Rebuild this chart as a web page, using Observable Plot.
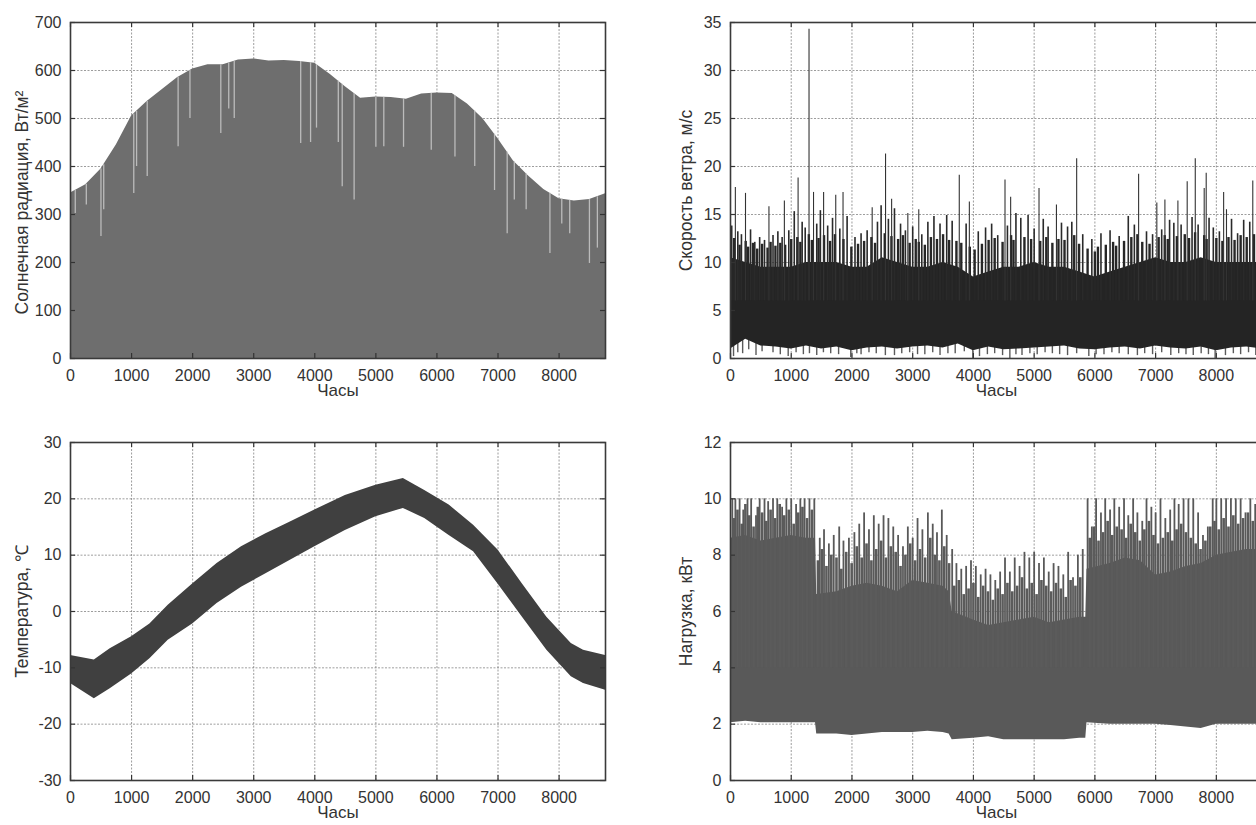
<!DOCTYPE html>
<html><head><meta charset="utf-8">
<script src="https://cdn.jsdelivr.net/npm/d3@7"></script>
<script src="https://cdn.jsdelivr.net/npm/@observablehq/plot@0.6"></script>
<style>
html,body{margin:0;padding:0;background:#fff;overflow:hidden;width:1256px;height:825px;}
#wrap{position:relative;width:1256px;height:825px;overflow:hidden;}
#wrap svg{position:absolute;}
</style></head><body><div id="wrap"></div>
<script>
// ---------- shared axis values ----------
const xLabel = "Часы";
const xTicks = [0,1000,2000,3000,4000,5000,6000,7000,8000];

// ---------- Panel 1: solar radiation (daily peak envelope + cloudy-day dips) ----------
const solarHours = [0,250,500,750,1000,1250,1500,1750,2000,2250,2500,2750,3000,3250,3500,3750,4000,4250,4500,4750,5000,5250,5500,5750,6000,6250,6500,6750,7000,7250,7500,7750,8000,8250,8500,8760];
const solarPeak  = [345,362,395,445,505,535,560,585,603,612,612,622,624,620,621,619,615,592,566,542,545,544,540,551,553,552,530,500,458,412,380,352,333,328,331,343];
const solarDipHours = [78,259,499,544,1036,1082,1256,1762,1956,2461,2591,2681,3769,3931,4028,4385,4449,4644,5000,5130,5453,5907,6295,6619,6943,7150,7267,7461,7850,8044,8174,8497,8627];
const solarDipValue = [302,320,254,310,344,400,379,441,500,469,520,500,448,450,480,450,358,330,440,441,440,434,420,400,350,260,330,310,219,280,260,198,230];
const solarLabel = "Солнечная радиация, Вт/м²";
const solarTicks = [0,100,200,300,400,500,600,700];

// ---------- Panel 2: wind speed ----------
const windHours = [0,250,500,750,1000,1250,1500,1750,2000,2250,2500,2750,3000,3250,3500,3750,4000,4250,4500,4750,5000,5250,5500,5750,6000,6250,6500,6750,7000,7250,7500,7750,8000,8250,8500,8760];
const windLow   = [1.0,2.0,1.3,1.2,1.0,1.3,1.0,1.2,0.8,1.1,1.2,1.0,1.2,1.3,1.1,1.5,0.8,1.2,0.9,1.0,1.1,1.2,1.3,1.0,0.9,1.1,1.2,1.0,1.3,1.1,1.0,1.2,0.8,1.1,1.2,1.0];
const windDense = [10.5,10,9.5,9.5,9.5,10,10,10,9.5,9.5,10.5,10,9.5,9.5,10,9.5,8.5,9,9.5,9.5,10,9.5,9.5,9,8.5,9,9.5,10,10.5,10,10,10.5,10,10,10,10];
const windGustHours = [20,120,180,330,400,480,560,700,780,850,960,1050,1180,1230,1420,1480,1600,1680,1800,1920,2050,2150,2250,2420,2480,2600,2700,2800,2880,3000,3150,3250,3350,3450,3560,3650,3880,4080,4200,4300,4400,4560,4700,4780,4900,5000,5150,5230,5450,5550,5620,5800,5950,6100,6250,6400,6550,6650,6850,6950,7100,7230,7300,7420,7600,7700,7880,7950,8050,8250,8350,8450,8550,8700];
const windGustValue = [13.8,13.2,12.9,13.4,12.1,12.6,12.3,12.8,13.2,12.6,13.3,15.3,14.2,13.6,14.0,15.4,13.8,14.6,13.5,14.8,12.6,13.0,13.3,14.2,15.9,14.5,15.6,14.0,13.3,13.7,12.9,14.2,14.8,14.0,14.9,14.3,14.0,13.2,13.6,14.0,12.8,13.8,15.1,14.6,14.9,13.5,14.5,13.7,14.1,13.7,14.2,12.9,12.4,13.0,13.3,12.7,14.8,13.9,13.2,12.9,13.4,14.4,14.1,13.9,14.7,13.9,14.6,13.6,13.2,14.5,13.0,14.4,14.2,13.7];
const windGust2Hours = [60,150,250,290,370,440,520,610,660,740,820,900,1000,1100,1150,1290,1340,1450,1540,1640,1720,1860,1990,2100,2200,2320,2380,2540,2650,2760,2840,2950,3050,3100,3200,3300,3400,3500,3600,3720,3800,3940,4020,4140,4250,4350,4480,4620,4660,4840,4950,5100,5200,5300,5400,5500,5660,5740,5880,6000,6050,6180,6300,6350,6480,6600,6700,6780,6900,7050,7150,7200,7350,7480,7550,7650,7800,7840,8000,8100,8200,8300,8400,8500,8620,8740];
const windGust2Value = [12.5,11.8,12.2,11.6,12.0,11.4,11.9,11.5,12.1,11.7,12.0,11.8,12.4,12.6,12.1,12.9,12.3,12.5,12.8,12.2,12.9,12.4,11.6,11.9,12.2,12.6,12.0,13.0,12.7,12.4,12.8,12.0,12.4,12.1,11.8,12.6,12.4,12.9,12.3,12.2,12.0,11.6,11.3,11.9,12.3,12.5,12.1,12.8,12.3,12.6,12.4,12.2,12.6,12.0,12.4,12.3,12.8,11.9,11.4,11.1,11.6,11.8,12.1,11.7,12.2,12.6,12.9,12.1,11.9,12.6,12.8,12.4,12.7,12.9,12.5,13.1,12.8,12.4,12.5,12.2,12.6,12.3,12.8,12.6,12.9,12.4];
const windPeakHours = [80,247,633,887,1113,1293,1367,1533,1733,1853,2333,2553,2653,2920,3100,3767,3933,4520,4613,5080,5367,5700,6720,7020,7153,7367,7520,7653,7800,7833,8120,8167,8600];
const windPeakValue = [17.8,17.2,15.8,16.4,18.8,34.3,17.3,17.3,17.0,17.3,15.7,21.3,16.6,15.1,15.5,19.1,16.3,18.6,16.8,17.7,16.0,20.8,19.2,16.2,16.5,16.4,18.4,20.8,17.7,19.3,17.3,15.5,18.5];
const windCalmHours = [50,120,200,300,420,520,700,820,950,1080,1200,1300,1420,1530,1650,1780,1980,2080,2150,2280,2400,2550,2700,2820,2950,3080,3200,3330,3450,3580,3700,3850,3990,4100,4230,4350,4480,4600,4700,4800,4930,5050,5180,5300,5420,5550,5700,5900,6020,6150,6280,6400,6550,6700,6820,6950,7100,7250,7380,7500,7620,7750,7870,7980,8150,8280,8400,8530,8650];
const windCalmValue = [0.2,0.6,0.5,0.9,0.3,0.7,0.6,0.4,0.2,0.6,0.4,0.5,0.3,0.6,0.5,0.4,0.1,0.5,0.4,0.6,0.5,0.3,0.3,0.5,0.6,0.4,0.4,0.6,0.3,0.5,0.5,0.7,0.0,0.2,0.4,0.5,0.3,0.0,0.4,0.3,0.5,0.4,0.6,0.5,0.4,0.3,0.5,0.2,0.4,0.4,0.6,0.5,0.4,0.3,0.5,0.4,0.6,0.3,0.5,0.4,0.3,0.5,0.4,0.0,0.3,0.5,0.4,0.6,0.3];
const windLabel = "Скорость ветра, м/с";
const windTicks = [0,5,10,15,20,25,30,35];

// ---------- Panel 3: temperature band ----------
const tempHours = [0,390,650,1000,1300,1600,2000,2400,2800,3200,3600,4000,4500,5000,5450,5800,6200,6600,7000,7400,7800,8200,8400,8760];
const tempHigh  = [-7.8,-8.6,-6.6,-4.5,-2.2,1.1,4.9,8.5,11.5,13.8,15.9,18.0,20.6,22.4,23.6,21.5,18.9,15.3,10.9,4.9,-1.0,-5.7,-6.9,-7.8];
const tempLow   = [-12.8,-15.5,-13.7,-11.1,-8.4,-5.1,-2.2,1.4,4.3,6.7,9.1,11.5,14.4,16.8,18.3,16.5,13.5,10.6,4.9,-1.0,-6.9,-11.6,-12.8,-14.0];
const tempLabel = "Температура, ℃";
const tempTicks = [-30,-20,-10,0,10,20,30];

// ---------- Panel 4: load ----------
const loadHours = [0,250,500,750,1000,1250,1400,1420,1750,2000,2250,2500,2750,3000,3250,3500,3600,3650,4000,4250,4500,4750,5000,5250,5500,5750,5850,5870,6250,6500,6750,7000,7250,7500,7750,8000,8250,8500,8760];
const loadLow   = [2.05,2.1,2.05,2.05,2.05,2.05,2.05,1.65,1.65,1.6,1.65,1.7,1.7,1.7,1.75,1.7,1.65,1.45,1.5,1.55,1.45,1.45,1.45,1.45,1.45,1.5,1.5,2.05,2.0,2.0,2.0,2.0,1.95,1.9,1.85,2.0,2.0,2.0,2.0];
const loadDense = [8.6,8.7,8.5,8.6,8.7,8.6,8.6,6.6,6.7,6.9,7.0,6.9,6.7,7.1,7.0,6.9,6.7,6.0,5.7,5.5,5.6,5.7,5.8,5.6,5.7,5.8,5.8,7.5,7.7,7.9,7.8,7.3,7.4,7.6,7.7,8.0,8.1,8.2,8.2];
const loadPeakHours = [30,80,150,210,280,340,420,480,560,620,700,770,850,920,1000,1080,1150,1220,1300,1380,
  1470,1540,1620,1700,1790,1860,1950,2040,2120,2200,2280,2360,2440,2520,2600,2680,2760,2840,2920,3000,3080,3160,3250,3330,3400,3480,3560,
  3650,3720,3800,3880,3960,4040,4120,4200,4280,4360,4440,4520,4600,4680,4760,4840,4920,5000,5080,5160,5240,5320,5400,5480,5560,5640,5720,5800,
  5880,5950,6020,6100,6170,6250,6320,6400,6480,6550,6630,6700,6780,6850,6930,7000,7080,7160,7240,7310,7380,7460,7540,7620,7700,7780,7860,7940,8000,8080,8160,8240,8320,8400,8480,8560,8640,8720];
const loadPeakValue = [10,10,10,9.6,10,10,9.4,10,10,9.9,10,10,9.7,10,10,9.8,10,10,10,10,
  8.6,8.9,8.4,8.7,9.0,8.5,8.6,8.8,9.1,9.5,8.9,9.4,9.1,9.4,9.3,9.0,8.7,8.3,9.0,8.6,9.3,8.9,9.5,9.1,8.8,9.6,8.7,
  8.2,7.7,7.5,7.6,7.8,7.6,7.3,7.5,7.3,7.1,7.4,7.9,7.4,7.9,7.6,8.1,7.9,8.1,7.7,7.9,7.4,7.7,7.6,7.3,8.1,7.2,8.0,8.2,
  10,9.0,10,9.5,10,9.6,10,9.7,10,9.4,10,9.5,9.2,10,9.7,9.5,10,9.3,9.6,10,9.8,10,10,10,9.5,8.7,9.0,10,10,10,10,10,10,10,9.5,10,9.8,10];
const loadMidHours = [55,115,185,245,310,380,450,520,590,660,735,810,885,960,1040,1115,1185,1260,1340,
  1440,1505,1580,1660,1745,1825,1905,1995,2080,2160,2240,2320,2400,2480,2560,2640,2720,2800,2880,2960,3040,3120,3205,3290,3365,3440,3520,3600,
  3685,3760,3840,3920,4000,4080,4160,4240,4320,4400,4480,4560,4640,4720,4800,4880,4960,5040,5120,5200,5280,5360,5440,5520,5600,5680,5760,
  5915,5985,6060,6135,6210,6285,6360,6440,6515,6590,6665,6740,6815,6890,6965,7040,7120,7200,7275,7345,7420,7500,7580,7660,7740,7820,7900,7970,8040,8120,8200,8280,8360,8440,8520,8600,8680,8750];
const loadMidValue = [9.3,9.6,9.1,9.8,9.4,9.0,9.7,9.5,9.2,9.6,9.3,9.8,9.4,9.6,9.1,9.5,9.7,9.3,9.6,
  7.8,8.2,7.6,8.0,7.9,7.5,8.1,7.7,8.3,7.9,8.4,7.8,8.2,8.5,7.9,8.3,8.1,7.6,8.0,8.4,7.8,8.2,7.9,8.6,8.0,7.8,8.3,7.7,
  6.9,7.1,6.6,6.8,7.0,6.5,6.9,6.7,6.4,6.8,6.6,7.0,6.7,6.9,7.2,6.8,7.0,6.6,7.1,6.9,6.7,7.0,6.8,6.5,7.1,6.9,7.2,
  8.6,9.0,8.5,8.8,9.2,8.7,9.0,8.9,8.6,9.1,8.8,8.5,8.9,9.2,8.7,8.4,8.6,8.8,8.5,8.9,9.1,8.8,8.6,8.4,8.2,8.5,9.0,9.2,8.9,9.3,9.0,9.4,9.1,9.3,9.5,9.2,9.4];
const loadLabel = "Нагрузка, кВт";
const loadTicks = [0,2,4,6,8,10,12];

// ---------- helpers ----------
const zip2 = (xs, ys) => xs.map((x, i) => ({x, y: ys[i]}));
const zip3 = (xs, a, b) => xs.map((x, i) => ({x, lo: a[i], hi: b[i]}));
const pairs = (xs, ys) => xs.map((h, i) => ({h, v: ys[i]}));
const interp = (xs, ys, x) => d3.scaleLinear().domain(xs).range(ys)(x);
const FONT = "'Liberation Sans', Arial, Helvetica, sans-serif";

function panel({left, top, width, height, mL, mR, mT, mB, yDomain, yTicks, yLabel, ylDx, ylDy, xlDy, marks}) {
  const [y0, y1] = yDomain;
  const tickLenY = (y1 - y0) * 5 / (height - mT - mB);
  const tickLenX = 8760 * 5 / (width - mL - mR);
  const chart = Plot.plot({
    width, height, marginLeft: mL, marginRight: mR, marginTop: mT, marginBottom: mB,
    style: {fontFamily: FONT, fontSize: "16px", color: "#333", background: "transparent", overflow: "visible"},
    x: {domain: [0, 8760]},
    y: {domain: yDomain},
    marks: [
      Plot.gridX(xTicks, {stroke: "#777", strokeOpacity: 0.9, strokeWidth: 0.8, strokeDasharray: "2,1.5"}),
      Plot.gridY(yTicks, {stroke: "#777", strokeOpacity: 0.9, strokeWidth: 0.8, strokeDasharray: "2,1.5"}),
      ...marks,
      Plot.ruleX(xTicks, {x: d => d, y1: y0, y2: y0 + tickLenY, stroke: "#333", strokeWidth: 1.2}),
      Plot.ruleX(xTicks, {x: d => d, y1: y1, y2: y1 - tickLenY, stroke: "#333", strokeWidth: 1.2}),
      Plot.ruleY(yTicks, {y: d => d, x1: 0, x2: tickLenX, stroke: "#333", strokeWidth: 1.2}),
      Plot.ruleY(yTicks, {y: d => d, x1: 8760, x2: 8760 - tickLenX, stroke: "#333", strokeWidth: 1.2}),
      Plot.frame({stroke: "#3a3a3a", strokeWidth: 1.6}),
      Plot.axisX(xTicks, {tickSize: 0, tickPadding: 11, tickFormat: d => String(d), label: null, fill: "#333", fontSize: 16}),
      Plot.axisY(yTicks, {tickSize: 0, tickPadding: 9, tickFormat: d => String(d), label: null, fill: "#333", fontSize: 16}),
      Plot.text([xLabel], {frameAnchor: "bottom", dy: xlDy, text: d => d, fontSize: 17, fill: "#333"}),
      Plot.text([yLabel], {frameAnchor: "left", dx: ylDx, dy: ylDy, rotate: -90, textAnchor: "middle", lineAnchor: "middle", text: d => d, fontSize: 17.5, fill: "#333"})
    ]
  });
  chart.style.left = left + "px";
  chart.style.top = top + "px";
  document.getElementById("wrap").appendChild(chart);
}

// Panel 1
panel({left: 0, top: 0, width: 625, height: 400, mL: 70, mR: 20, mT: 22, mB: 42,
  yDomain: [0, 700], yTicks: solarTicks, yLabel: solarLabel, ylDx: -48, ylDy: 12, xlDy: 37,
  marks: [
    Plot.areaY(zip2(solarHours, solarPeak), {x: "x", y1: 0, y2: "y", fill: "#6e6e6e"}),
    Plot.ruleX(solarDipHours.map((h, i) => ({h, lo: solarDipValue[i], hi: interp(solarHours, solarPeak, h)})),
      {x: "h", y1: "lo", y2: "hi", stroke: "#c9c9c9", strokeWidth: 1.3, strokeOpacity: 0.85})
  ]});

// Panel 2
panel({left: 640, top: 0, width: 640, height: 400, mL: 90, mR: 18, mT: 22, mB: 42,
  yDomain: [0, 35], yTicks: windTicks, yLabel: windLabel, ylDx: -44, ylDy: 0, xlDy: 37,
  marks: [
    Plot.ruleX(pairs(windCalmHours, windCalmValue), {x: "h", y1: "v", y2: 3, stroke: "#5a5a5a", strokeWidth: 1.4}),
    Plot.areaY(zip3(windHours, windLow, windDense), {x: "x", y1: "lo", y2: "hi", fill: "#242424"}),
    Plot.ruleX(pairs(windGust2Hours, windGust2Value), {x: "h", y1: 6, y2: "v", stroke: "#262626", strokeWidth: 2.4}),
    Plot.ruleX(pairs(windGustHours, windGustValue), {x: "h", y1: 6, y2: "v", stroke: "#2a2a2a", strokeWidth: 1.6}),
    Plot.ruleX(pairs(windPeakHours, windPeakValue), {x: "h", y1: 6, y2: "v", stroke: "#333", strokeWidth: 1.1})
  ]});

// Panel 3
panel({left: 0, top: 420, width: 625, height: 405, mL: 70, mR: 20, mT: 22, mB: 45,
  yDomain: [-30, 30], yTicks: tempTicks, yLabel: tempLabel, ylDx: -48, ylDy: 0, xlDy: 37,
  marks: [
    Plot.areaY(zip3(tempHours, tempLow, tempHigh), {x: "x", y1: "lo", y2: "hi", fill: "#404040"})
  ]});

// Panel 4
panel({left: 640, top: 420, width: 640, height: 405, mL: 90, mR: 18, mT: 22, mB: 45,
  yDomain: [0, 12], yTicks: loadTicks, yLabel: loadLabel, ylDx: -44, ylDy: 0, xlDy: 37,
  marks: [
    Plot.areaY(zip3(loadHours, loadLow, loadDense), {x: "x", y1: "lo", y2: "hi", fill: "#595959"}),
    Plot.ruleX(pairs(loadMidHours, loadMidValue), {x: "h", y1: 4, y2: "v", stroke: "#5b5b5b", strokeWidth: 2.6}),
    Plot.ruleX(pairs(loadPeakHours, loadPeakValue), {x: "h", y1: 4, y2: "v", stroke: "#595959", strokeWidth: 1.8})
  ]});
</script>
</body></html>
